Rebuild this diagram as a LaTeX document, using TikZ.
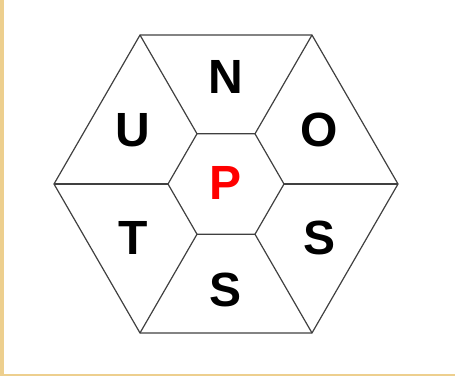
\documentclass[tikz,border=0pt]{standalone}
\usepackage{fontspec}
\setmainfont{Liberation Sans}
\usepackage{xcolor}
\usetikzlibrary{calc}
\definecolor{edgegray}{HTML}{404040}
\definecolor{letterred}{HTML}{FF0000}
\definecolor{paperbeige}{HTML}{EDCF8E}
\tikzset{
  hexline/.style={edgegray, line width=1.2pt, line join=miter},
  letter/.style={font=\fontsize{48}{48}\selectfont\bfseries, inner sep=0pt},
  centreletter/.style={letter, text=letterred}
}

\begin{document}
\begin{tikzpicture}[x=1pt,y=1pt]
  \useasboundingbox (-226,-192) rectangle (229,184);
  \fill[paperbeige] (-226,-192) rectangle (-222,184);
  \fill[paperbeige] (-226,-192) rectangle (229,-190);
  % outer ring, inner cell and the six spokes
  \draw[hexline] (0:172) -- (60:172) -- (120:172) -- (180:172) -- (240:172) -- (300:172) -- cycle;
  \draw[hexline] (0:58) -- (60:58) -- (120:58) -- (180:58) -- (240:58) -- (300:58) -- cycle;
  \foreach \a in {0,60,...,300}
    \draw[hexline] (\a:58) -- (\a:172);
  % letters
  \node[centreletter] (centre) at (0,1) {P};
  \node[letter] (north) at (90:107) {N};
  \node[letter] (northeast) at (30:108) {O};
  \node[letter] (southeast) at (-30:108) {S};
  \node[letter] (south) at (-90:106) {S};
  \node[letter] (southwest) at (-150:107) {T};
  \node[letter] (northwest) at (150:108) {U};
\end{tikzpicture}
\end{document}
